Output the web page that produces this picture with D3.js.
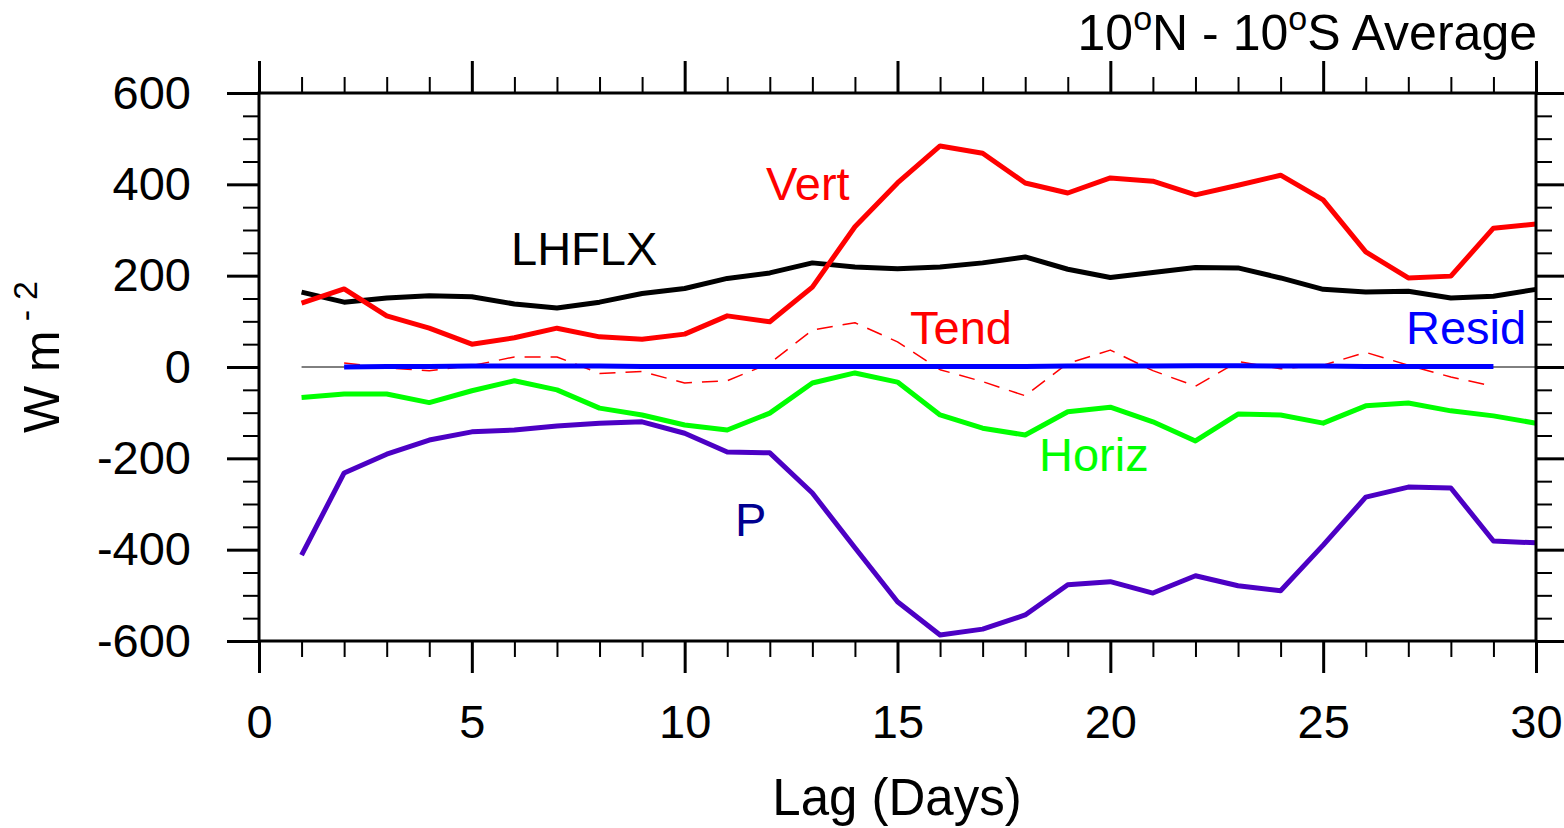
<!DOCTYPE html>
<html>
<head>
<meta charset="utf-8">
<script src="https://cdn.jsdelivr.net/npm/d3@7"></script>
<style>
  body { margin: 0; background: #fff; }
  text { font-family: "Liberation Sans", Arial, Helvetica, sans-serif; }
</style>
</head>
<body>
<svg width="1564" height="828"></svg>
<script>
var svg = d3.select('svg'),
  width = +svg.attr('width'),
  height = +svg.attr('height');

// lag days
var days = d3.range(1, 31);
var daysInner = d3.range(2, 30);

// series values (W m-2)
var lhflx = [164, 142, 151, 156, 154, 138, 129, 142, 161, 172,
  194, 206, 228, 219, 215, 219, 228, 241, 214, 196,
  207, 218, 217, 195, 170, 164, 166, 151, 155, 170];
var vert = [140, 171, 112, 85, 50, 64, 85, 66, 61, 72,
  112, 99, 175, 307, 403, 484, 468, 403, 381, 414,
  407, 377, 398, 420, 366, 252, 195, 199, 304, 313];
var horiz = [-67, -59, -59, -78, -52, -30, -50, -90, -105, -127,
  -138, -101, -35, -13, -33, -105, -134, -149, -98, -88,
  -120, -162, -103, -105, -123, -85, -79, -96, -107, -123];
var precip = [-412, -232, -191, -160, -142, -138, -129, -123, -120, -145,
  -186, -188, -276, -396, -514, -587, -574, -543, -477, -470,
  -495, -457, -479, -490, -390, -285, -263, -265, -381, -385];
// days 2..29
var tend = [9, -2, -8, 3, 22, 22, -14, -10, -35,
  -30, 8, 81, 97, 55, -6, -32, -63, 8, 37,
  -8, -42, 12, -4, 4, 32, 4, -22, -42];
var resid = [0, 1, 1, 2, 2, 2, 2, 1, 1,
  1, 1, 1, 1, 1, 1, 1, 1, 2, 2,
  2, 3, 3, 2, 2, 1, 1, 1, 1];

var xTicks = [0, 5, 10, 15, 20, 25, 30];
var yTicks = [-600, -400, -200, 0, 200, 400, 600];

var plotL = 259, plotR = 1536, plotT = 93, plotB = 641;

var x = d3.scaleLinear().domain([0, 30]).range([plotL, plotR]);
var y = d3.scaleLinear().domain([-600, 600]).range([plotB, plotT]);

var line = d3.line()
  .x(function(d) { return x(d[0]); })
  .y(function(d) { return y(d[1]); });

function pairs(xs, ys) {
  return xs.map(function(d, i) { return [d, ys[i]]; });
}

// zero reference line
svg.append('path')
  .attr('d', line([[1, 0], [30, 0]]))
  .attr('stroke', 'black')
  .attr('stroke-width', 1)
  .attr('fill', 'none');

var series = [
  { data: pairs(days, lhflx), color: 'black', w: 5 },
  { data: pairs(days, vert), color: '#ff0000', w: 5 },
  { data: pairs(daysInner, tend), color: '#ff0000', w: 1.5, dash: '16,10' },
  { data: pairs(days, horiz), color: '#00ff00', w: 5 },
  { data: pairs(days, precip), color: '#4c00c4', w: 5 },
  { data: pairs(daysInner, resid), color: '#0000ff', w: 5 }
];

svg.append('g')
  .attr('class', 'lines')
  .selectAll('path')
  .data(series)
  .enter()
  .append('path')
  .attr('d', function(d) { return line(d.data); })
  .attr('fill', 'none')
  .attr('stroke', function(d) { return d.color; })
  .attr('stroke-width', function(d) { return d.w; })
  .attr('stroke-linejoin', 'round')
  .attr('stroke-dasharray', function(d) { return d.dash || null; });

// axes: ticks outward on all four sides
var majorLen = 32, minorLen = 16;
var xMinor = d3.range(0, 31).filter(function(d) { return d % 5 !== 0; });
var yMinor = d3.range(-600, 601, 50).filter(function(d) { return d % 200 !== 0; });
var plain = function(d) { return String(d); };

function styleAxis(g, sw) {
  g.select('.domain').remove();
  g.selectAll('.tick line').attr('stroke', 'black').attr('stroke-width', sw);
}

// bottom
svg.append('g').attr('transform', 'translate(0,' + plotB + ')')
  .call(d3.axisBottom(x).tickValues(xMinor).tickSize(minorLen).tickFormat(''))
  .call(styleAxis, 2);
svg.append('g').attr('transform', 'translate(0,' + plotB + ')')
  .call(d3.axisBottom(x).tickValues(xTicks).tickSize(majorLen).tickPadding(32).tickFormat(plain))
  .call(styleAxis, 3)
  .selectAll('text').attr('font-size', 47).attr('fill', 'black');
// top
svg.append('g').attr('transform', 'translate(0,' + plotT + ')')
  .call(d3.axisTop(x).tickValues(xMinor).tickSize(minorLen).tickFormat(''))
  .call(styleAxis, 2);
svg.append('g').attr('transform', 'translate(0,' + plotT + ')')
  .call(d3.axisTop(x).tickValues(xTicks).tickSize(majorLen).tickFormat(''))
  .call(styleAxis, 3);
// left
svg.append('g').attr('transform', 'translate(' + plotL + ',0)')
  .call(d3.axisLeft(y).tickValues(yMinor).tickSize(minorLen).tickFormat(''))
  .call(styleAxis, 2);
svg.append('g').attr('transform', 'translate(' + plotL + ',0)')
  .call(d3.axisLeft(y).tickValues(yTicks).tickSize(majorLen).tickPadding(36).tickFormat(plain))
  .call(styleAxis, 3)
  .selectAll('text').attr('font-size', 47).attr('fill', 'black');
// right
svg.append('g').attr('transform', 'translate(' + plotR + ',0)')
  .call(d3.axisRight(y).tickValues(yMinor).tickSize(minorLen).tickFormat(''))
  .call(styleAxis, 2);
svg.append('g').attr('transform', 'translate(' + plotR + ',0)')
  .call(d3.axisRight(y).tickValues(yTicks).tickSize(majorLen).tickFormat(''))
  .call(styleAxis, 3);

// frame
svg.append('rect')
  .attr('x', plotL).attr('y', plotT)
  .attr('width', plotR - plotL).attr('height', plotB - plotT)
  .attr('fill', 'none').attr('stroke', 'black').attr('stroke-width', 3);

// curve labels
var labels = [
  { t: 'Vert', x: 766, y: 200, c: '#ff0000' },
  { t: 'LHFLX', x: 511, y: 265, c: 'black' },
  { t: 'Tend', x: 910, y: 344, c: '#ff0000' },
  { t: 'Resid', x: 1406, y: 344, c: '#0000ff' },
  { t: 'Horiz', x: 1039, y: 471, c: '#00ff00' },
  { t: 'P', x: 735, y: 536, c: '#000090' }
];
svg.append('g').selectAll('text')
  .data(labels)
  .enter()
  .append('text')
  .attr('x', function(d) { return d.x; })
  .attr('y', function(d) { return d.y; })
  .attr('fill', function(d) { return d.c; })
  .attr('font-size', 47)
  .text(function(d) { return d.t; });

// title
var title = svg.append('text')
  .attr('x', 1537).attr('y', 50)
  .attr('text-anchor', 'end')
  .attr('font-size', 50);
title.append('tspan').text('10');
title.append('tspan').attr('dy', -20).attr('font-size', 34).text('o');
title.append('tspan').attr('dy', 20).text('N - 10');
title.append('tspan').attr('dy', -20).attr('font-size', 34).text('o');
title.append('tspan').attr('dy', 20).text('S Average');

// x axis title
svg.append('text')
  .attr('x', 897).attr('y', 815)
  .attr('text-anchor', 'middle')
  .attr('font-size', 51)
  .text('Lag (Days)');

// y axis title
var yt = svg.append('text')
  .attr('transform', 'translate(59,433) rotate(-90)')
  .attr('font-size', 50);
yt.append('tspan').text('W m');
yt.append('tspan').attr('dx', 9).attr('dy', -22).attr('font-size', 34).text('-');
yt.append('tspan').attr('dx', 10).attr('font-size', 34).text('2');
</script>
</body>
</html>
